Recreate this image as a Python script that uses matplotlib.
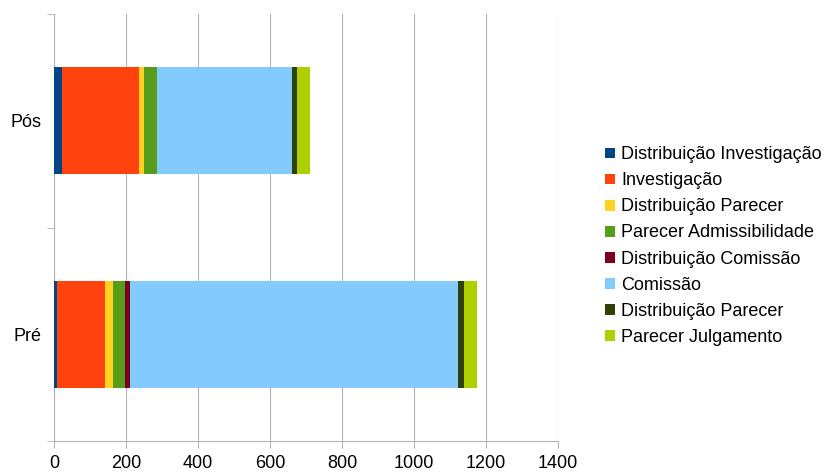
import matplotlib
matplotlib.use("Agg")
import matplotlib.pyplot as plt
import numpy as np

plt.rcParams['font.family'] = ['Liberation Sans', 'DejaVu Sans']

categories = ["Pré", "Pós"]
series_names = ["Distribuição Investigação", "Investigação", "Distribuição Parecer",
                "Parecer Admissibilidade", "Distribuição Comissão", "Comissão",
                "Distribuição Parecer", "Parecer Julgamento"]
pre_values = [8, 135, 20, 35, 13, 911, 17, 37]
pos_values = [21, 214, 14, 36, 0, 376, 15, 36]
colors = ["#004586", "#ff420e", "#ffd320", "#579d1c", "#7e0021", "#83caff", "#314004", "#aecf00"]
xticks = [0, 200, 400, 600, 800, 1000, 1200, 1400]

fig = plt.figure(figsize=(8.28, 4.74), dpi=100)
ax = fig.add_axes([54/828, 33/474, (558-54)/828, (441-14)/474])

y = np.arange(len(categories))
left = np.zeros(len(categories))
for i, name in enumerate(series_names):
    vals = np.array([pre_values[i], pos_values[i]])
    ax.barh(y, vals, left=left, height=0.5, color=colors[i], label=name, zorder=3)
    left += vals

ax.set_xlim(0, 1400)
ax.set_ylim(-0.5, 1.5)
ax.set_xticks(xticks)
ax.set_xticklabels([str(t) for t in xticks], fontsize=13)
ax.set_yticks(y)
ax.set_yticklabels(categories, fontsize=13)
ax.set_yticks([-0.5, 0.5, 1.5], minor=True)
ax.tick_params(axis='y', which='major', length=0, pad=9)
ax.tick_params(axis='y', which='minor', length=5, color='#b3b3b3')
ax.tick_params(axis='x', length=5, color='#b3b3b3', pad=5)
ax.grid(axis='x', color='#b3b3b3', linewidth=0.8, zorder=0)
for s in ['top', 'right']:
    ax.spines[s].set_visible(False)
for s in ['left', 'bottom']:
    ax.spines[s].set_color('#b3b3b3')
    ax.spines[s].set_linewidth(0.8)

handles, labels = ax.get_legend_handles_labels()
fig.legend(handles, labels, loc='center left', bbox_to_anchor=(598/828, (474-246)/474),
           frameon=False, fontsize=13, handlelength=0.55, handleheight=0.55,
           handletextpad=0.35, labelspacing=0.5, borderaxespad=0)

fig.savefig("out.png", dpi=100)
